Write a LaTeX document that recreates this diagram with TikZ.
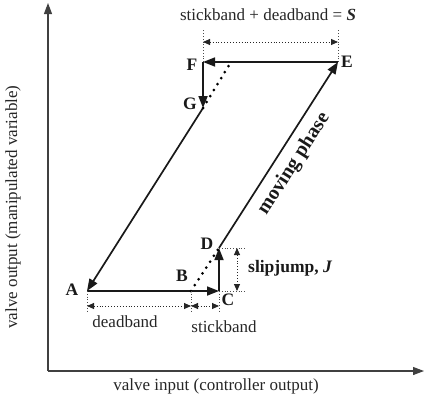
\documentclass[tikz,border=0pt]{standalone}
\usepackage{fontspec}
\setmainfont{Liberation Serif}
\usetikzlibrary{arrows.meta}
\begin{document}
\begin{tikzpicture}[x=1pt,y=-1pt,
  font=\fontsize{17}{20}\selectfont,
  axis/.style={draw=black!75,line width=1.1pt,-{Triangle[length=11pt,width=8pt]}},
  mainline/.style={draw=black!90,line width=1.7pt,-{Triangle[length=12pt,width=9pt]}},
  dimline/.style={draw=black!85,line width=0.9pt,dotted,{Triangle[length=7pt,width=6pt]}-{Triangle[length=7pt,width=6pt]}},
  extline/.style={draw=black!70,line width=0.8pt,dotted},
  jumpdots/.style={draw=black,line width=3pt,dash pattern=on 0pt off 7pt,line cap=round},
  lbl/.style={font=\fontsize{17.5}{20}\selectfont\bfseries,text=black!90,inner sep=0pt},
  txt/.style={text=black!85,inner sep=0pt}]
\useasboundingbox (0,0) rectangle (427,402);
% axes
\coordinate (O) at (48,371);
\coordinate (Ytop) at (48,3);
\coordinate (Xend) at (424,371);
\draw[axis] (O) -- (Ytop);
\draw[axis] (O) -- (Xend);
% points
\coordinate (A) at (87,291);
\coordinate (B) at (191,291);
\coordinate (C) at (219,291);
\coordinate (D) at (219,248);
\coordinate (E) at (338,62);
\coordinate (F) at (203,62);
\coordinate (G) at (203,108);
\coordinate (H) at (231,62);
% main cycle
\draw[mainline] (A) -- (C);
\draw[mainline] (C) -- (D);
\draw[mainline] (D) -- (E);
\draw[mainline] (E) -- (F);
\draw[mainline] (F) -- (G);
\draw[mainline] (G) -- (A);
% slip dots
\draw[jumpdots] (B) -- (D);
\draw[jumpdots] (G) -- (H);
% deadband / stickband dims
\coordinate (Aext) at (87,312);
\coordinate (Bext) at (191,312);
\coordinate (Cext) at (219,312);
\draw[extline] (A) -- (Aext);
\draw[extline] (B) -- (Bext);
\draw[extline] (C) -- (Cext);
\coordinate (Ad) at (87,306);
\coordinate (Bd) at (191,306);
\coordinate (Cd) at (219,306);
\draw[dimline] (Ad) -- (Bd);
\draw[dimline] (Bd) -- (Cd);
% slipjump dims
\coordinate (Dext) at (246,248);
\coordinate (Cext2) at (246,291);
\draw[extline] (D) -- (Dext);
\draw[extline] (C) -- (Cext2);
\coordinate (Dj) at (237,248);
\coordinate (Cj) at (237,291);
\draw[dimline] (Dj) -- (Cj);
% top dims
\coordinate (Fext) at (203,29);
\coordinate (Eext) at (338,29);
\draw[extline] (F) -- (Fext);
\draw[extline] (E) -- (Eext);
\coordinate (Fs) at (203,42);
\coordinate (Es) at (338,42);
\draw[dimline] (Fs) -- (Es);
% point labels
\node[lbl] (lA) at (72,290) {A};
\node[lbl] (lB) at (182,276) {B};
\node[lbl] (lC) at (228,300) {C};
\node[lbl] (lD) at (207,244) {D};
\node[lbl] (lE) at (347,62) {E};
\node[lbl] (lF) at (192,65) {F};
\node[lbl] (lG) at (190,104) {G};
% texts
\node[txt] (tdead) at (125,322) {deadband};
\node[txt] (tstick) at (224,327) {stickband};
\node[lbl,anchor=west] (tslip) at (248,268) {slipjump, \textit{J}};
\node[txt] (ttop) at (268,15) {stickband + deadband = \textbf{\textit{S}}};
\node[lbl,font=\fontsize{20}{22}\selectfont\bfseries,rotate=57.4] (tmove) at (294,164) {moving phase};
\node[txt] (tx) at (216,386) {valve input (controller output)};
\node[txt,rotate=90] (ty) at (13,207) {valve output (manipulated variable)};
\end{tikzpicture}
\end{document}
